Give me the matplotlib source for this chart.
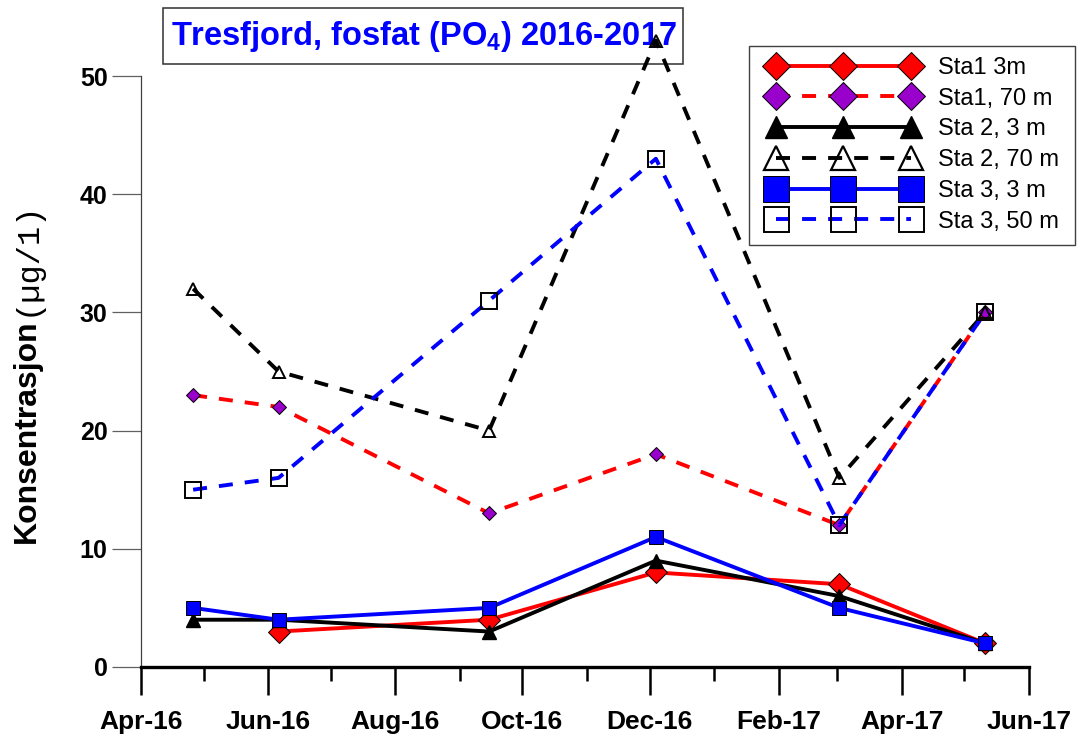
import datetime as dt
import matplotlib
matplotlib.use("Agg")
import matplotlib.pyplot as plt
import matplotlib.dates as mdates
from matplotlib.lines import Line2D
from matplotlib.patches import Rectangle

plt.rcParams['font.family'] = ['Liberation Sans', 'DejaVu Sans']
plt.rcParams['mathtext.fontset'] = 'custom'
plt.rcParams['mathtext.rm'] = 'Liberation Sans:bold'
plt.rcParams['mathtext.bf'] = 'Liberation Sans:bold'

# sampling dates
dates = [dt.date(2016, 4, 26), dt.date(2016, 6, 6), dt.date(2016, 9, 15),
         dt.date(2016, 12, 4), dt.date(2017, 3, 2), dt.date(2017, 5, 11)]

sta1_3m = [None, 3, 4, 8, 7, 2]
sta1_70m = [23, 22, 13, 18, 12, 30]
sta2_3m = [4, 4, 3, 9, 6, 2]
sta2_70m = [32, 25, 20, 53, 16, 30]
sta3_3m = [5, 4, 5, 11, 5, 2]
sta3_50m = [15, 16, 31, 43, 12, 30]

labels = ['Sta1 3m', 'Sta1, 70 m', 'Sta 2, 3 m', 'Sta 2, 70 m', 'Sta 3, 3 m', 'Sta 3, 50 m']
yticks = [0, 10, 20, 30, 40, 50]

W, H = 1077, 747
fig = plt.figure(figsize=(W / 100, H / 100), dpi=100)
ax = fig.add_axes([141 / W, 1 - 667 / H, (1029 - 141) / W, (667 - 76) / H])

lw = 2.8
dash = (3.6, 3.1)


def xs_ys(vals):
    pts = [(d, v) for d, v in zip(dates, vals) if v is not None]
    return [p[0] for p in pts], [p[1] for p in pts]


x, y = xs_ys(sta1_3m)
ax.plot(x, y, color='#ff0000', lw=lw, marker='D', ms=11, mfc='#ff0000',
        mec='black', mew=0.7, clip_on=False, zorder=3)
x, y = xs_ys(sta1_70m)
ax.plot(x, y, color='#ff0000', lw=lw, dashes=dash, marker='D', ms=7,
        mfc='#9900cc', mec='black', mew=0.7, clip_on=False, zorder=3)
x, y = xs_ys(sta2_3m)
ax.plot(x, y, color='black', lw=lw, marker='^', ms=10, mfc='black',
        mec='black', clip_on=False, zorder=3)
x, y = xs_ys(sta2_70m)
ax.plot(x, y, color='black', lw=lw, dashes=dash, marker='^', ms=9,
        mfc='none', mec='black', mew=1.4, clip_on=False, zorder=3)
x, y = xs_ys(sta3_3m)
ax.plot(x, y, color='#0000ff', lw=lw, marker='s', ms=10, mfc='#0000ff',
        mec='black', mew=0.7, clip_on=False, zorder=3)
x, y = xs_ys(sta3_50m)
ax.plot(x, y, color='#0000ff', lw=lw, dashes=dash, marker='s', ms=12,
        mfc='none', mec='black', mew=1.4, clip_on=False, zorder=3)

ax.set_xlim(dt.date(2016, 4, 1), dt.date(2017, 6, 1))
ax.set_ylim(0, 50)
ax.set_yticks(yticks)

ax.spines['top'].set_visible(False)
ax.spines['right'].set_visible(False)
ax.spines['left'].set_color('#404040')
ax.spines['left'].set_linewidth(0.9)
ax.spines['bottom'].set_linewidth(2.4)
ax.spines['bottom'].set_color('black')

ax.xaxis.set_major_locator(mdates.MonthLocator(bymonth=[2, 4, 6, 8, 10, 12]))
ax.xaxis.set_minor_locator(mdates.MonthLocator())
ax.xaxis.set_major_formatter(mdates.DateFormatter('%b-%y'))
ax.tick_params(axis='x', which='major', direction='out', length=20, width=1.8,
               color='black', pad=11, labelsize=19)
ax.tick_params(axis='x', which='minor', direction='out', length=10, width=1.8,
               color='black')
ax.tick_params(axis='y', which='major', direction='out', length=21, width=0.9,
               color='#606060', pad=3, labelsize=18)
for lab in ax.get_xticklabels():
    lab.set_fontfamily(['Liberation Sans Narrow', 'Liberation Sans'])
    lab.set_fontweight('bold')
for lab in ax.get_yticklabels():
    lab.set_fontweight('bold')

# y label: bold word plus unit in a mono face
fig.text(35 / W, 1 - 543 / H, 'Konsentrasjon', rotation=90, rotation_mode='anchor',
         ha='left', va='baseline', fontsize=23, fontweight='bold')
fig.text(35 / W, 1 - 316 / H, '(µg/1)', rotation=90, rotation_mode='anchor',
         ha='left', va='baseline', fontsize=23, family=['Liberation Mono', 'DejaVu Sans Mono'])

# title box
fig.patches.append(Rectangle((163 / W, 1 - 64 / H), 520 / W, 56 / H, transform=fig.transFigure,
                             fill=True, fc='white', ec='#303030', lw=1.1, zorder=-2))
fig.text(424 / W, 1 - 36 / H, r'Tresfjord, fosfat (PO$_{\mathbf{4}}$) 2016-2017',
         ha='center', va='center', fontsize=23.5, fontweight='bold', color='#0000ff', zorder=-1)

# legend
handles = [
    Line2D([], [], color='#ff0000', lw=lw, marker='D', ms=14, mfc='#ff0000', mec='black', mew=0.7),
    Line2D([], [], color='#ff0000', lw=lw, dashes=dash, marker='D', ms=14, mfc='#9900cc',
           mec='black', mew=0.7),
    Line2D([], [], color='black', lw=lw, marker='^', ms=16, mfc='black', mec='black'),
    Line2D([], [], color='black', lw=lw, dashes=dash, marker='^', ms=17, mfc='none',
           mec='black', mew=1.6),
    Line2D([], [], color='#0000ff', lw=lw, marker='s', ms=19, mfc='#0000ff', mec='black', mew=0.7),
    Line2D([], [], color='#0000ff', lw=lw, dashes=dash, marker='s', ms=18, mfc='none',
           mec='black', mew=1.4),
]
fig.legend(handles, labels, loc='upper left', bbox_to_anchor=(769 / W, 1 - 57 / H),
           bbox_transform=fig.transFigure, frameon=False, borderpad=0, borderaxespad=0,
           handlelength=6.3, handletextpad=0.85, labelspacing=0.37, fontsize=17, numpoints=3)
fig.patches.append(Rectangle((749 / W, 1 - 245 / H), 326 / W, 199 / H, transform=fig.transFigure,
                             fill=False, ec='#404040', lw=1.0))

fig.savefig('out.png', dpi=100)
